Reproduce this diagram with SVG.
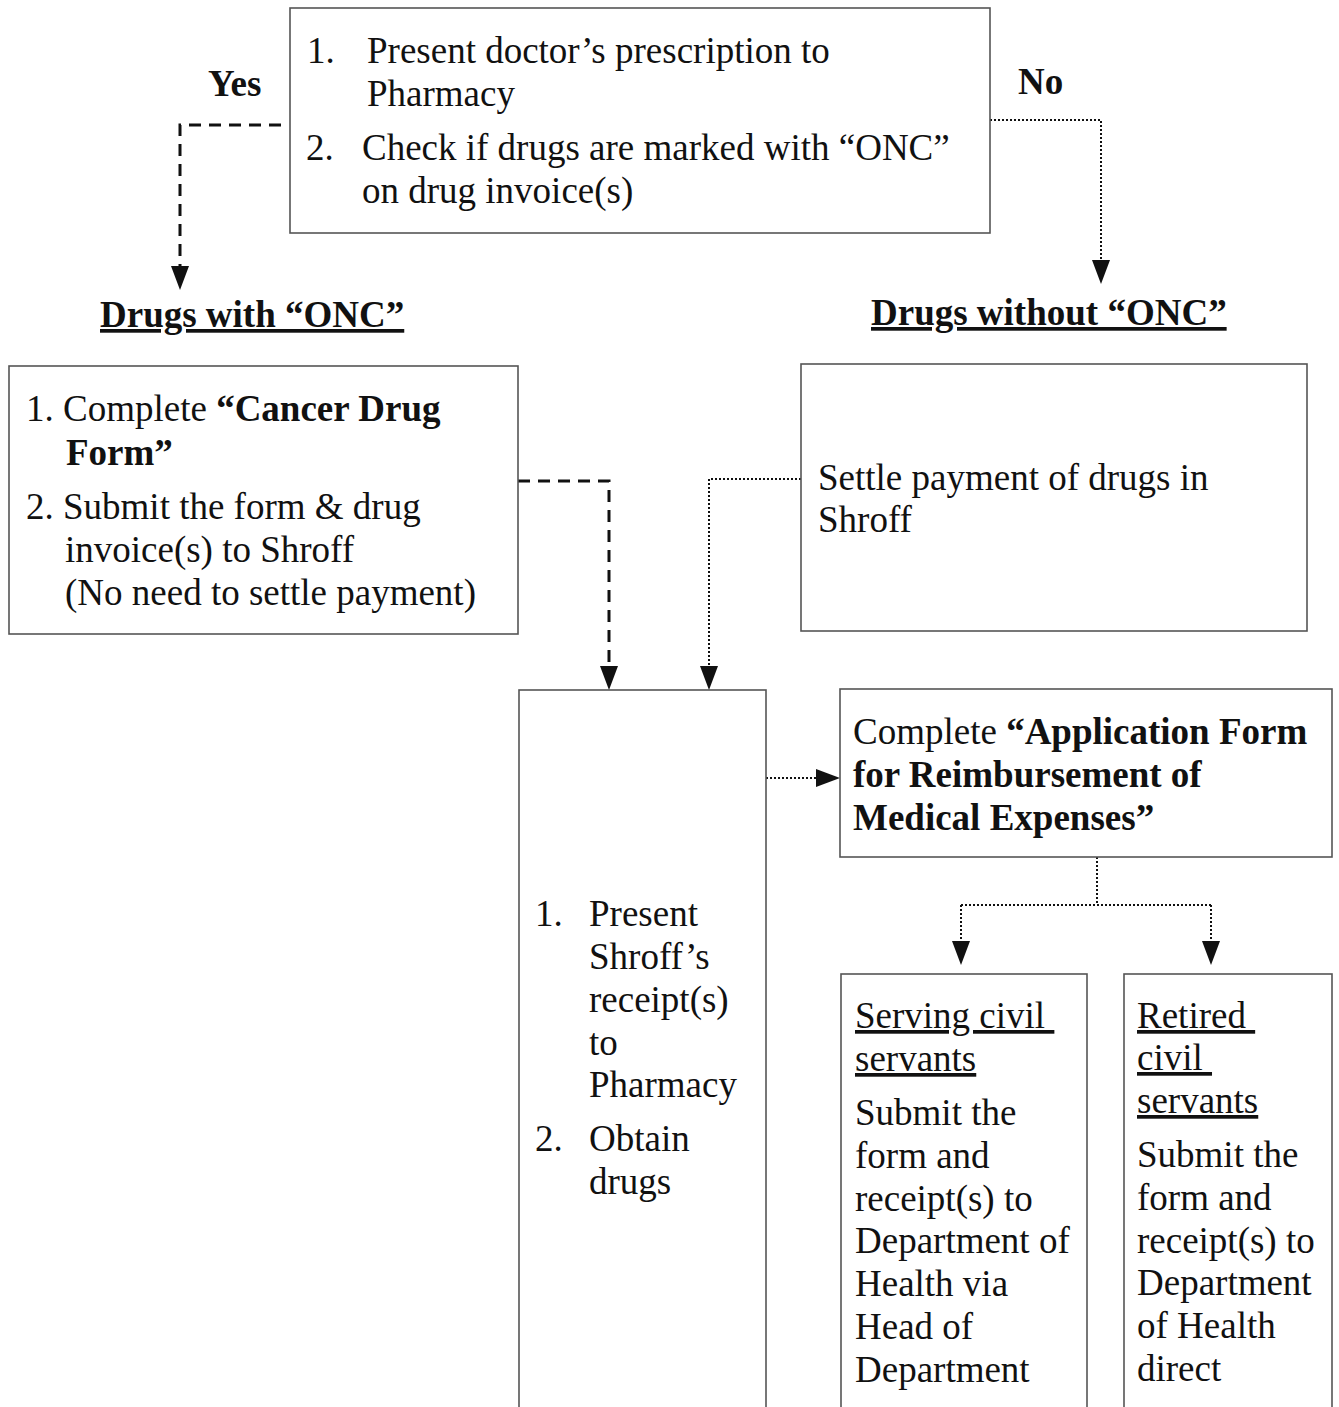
<svg xmlns="http://www.w3.org/2000/svg" width="1339" height="1407" viewBox="0 0 1339 1407">
<style>
text{font-family:"Liberation Serif","Times New Roman",serif;font-size:37px;fill:#111;white-space:pre}
.b{font-weight:bold}
.u{text-decoration:underline}
.box{fill:#fff;stroke:#555;stroke-width:1.6}
.dash{fill:none;stroke:#111;stroke-width:3;stroke-dasharray:12 8}
.dot{fill:none;stroke:#111;stroke-width:2;stroke-dasharray:2 2}
</style>
<defs>
<marker id="ah" viewBox="0 0 24 18" refX="24" refY="9" markerWidth="24" markerHeight="18" markerUnits="userSpaceOnUse" orient="auto">
<path d="M0,0 L24,9 L0,18 Z" fill="#111"/>
</marker>
</defs>
<rect width="1339" height="1407" fill="#fff"/>

<g id="connectors">
<path class="dash" d="M281,125 H180 V268"/>
<path d="M171,266 L189,266 L180,290 Z" fill="#111"/>
<path class="dot" d="M990,120 H1101 V262"/>
<path d="M1092,260 L1110,260 L1101,284 Z" fill="#111"/>
<path class="dash" d="M518,481 H609 V668"/>
<path d="M600,666 L618,666 L609,690 Z" fill="#111"/>
<path class="dot" d="M801,479 H709 V668"/>
<path d="M700,666 L718,666 L709,690 Z" fill="#111"/>
<path class="dot" d="M766,778 H818"/>
<path d="M816,769 L840,778 L816,787 Z" fill="#111"/>
<path class="dot" d="M1097,857 V905 M961,905 H1211 M961,905 V943 M1211,905 V943"/>
<path d="M952,941 L970,941 L961,965 Z" fill="#111"/>
<path d="M1202,941 L1220,941 L1211,965 Z" fill="#111"/>
</g>

<g id="label-yes"><text class="b" x="208" y="96">Yes</text></g>
<g id="label-no"><text class="b" x="1018" y="94">No</text></g>

<g id="start">
<rect class="box" x="290" y="8" width="700" height="225"/>
<text x="307" y="63">1.</text><text x="367" y="63">Present doctor’s prescription to</text>
<text x="367" y="106">Pharmacy</text>
<text x="306" y="160">2.</text><text x="362" y="160">Check if drugs are marked with “ONC”</text>
<text x="362" y="203">on drug invoice(s)</text>
</g>

<g id="heading-with"><text class="b u" x="100" y="327">Drugs with “ONC”</text></g>
<g id="heading-without"><text class="b u" x="871" y="325">Drugs without “ONC”</text></g>

<g id="cancer-form">
<rect class="box" x="9" y="366" width="509" height="268"/>
<text x="26" y="421">1. Complete <tspan class="b">“Cancer Drug</tspan></text>
<text class="b" x="66" y="465">Form”</text>
<text x="26" y="519">2. Submit the form &amp; drug</text>
<text x="65" y="562">invoice(s) to Shroff</text>
<text x="65" y="605">(No need to settle payment)</text>
</g>

<g id="settle">
<rect class="box" x="801" y="364" width="506" height="267"/>
<text x="818" y="490">Settle payment of drugs in</text>
<text x="818" y="532">Shroff</text>
</g>

<g id="obtain">
<rect class="box" x="519" y="690" width="247" height="740"/>
<text x="535" y="926">1.</text><text x="589" y="926">Present</text>
<text x="589" y="969">Shroff’s</text>
<text x="589" y="1012">receipt(s)</text>
<text x="589" y="1055">to</text>
<text x="589" y="1097">Pharmacy</text>
<text x="535" y="1151">2.</text><text x="589" y="1151">Obtain</text>
<text x="589" y="1194">drugs</text>
</g>

<g id="application">
<rect class="box" x="840" y="689" width="492" height="168"/>
<text x="853" y="744">Complete <tspan class="b">“Application Form</tspan></text>
<text class="b" x="853" y="787">for Reimbursement of</text>
<text class="b" x="853" y="830">Medical Expenses”</text>
</g>

<g id="serving">
<rect class="box" x="841" y="974" width="246" height="460"/>
<text class="u" x="855" y="1028">Serving civil </text>
<text class="u" x="855" y="1071">servants</text>
<text x="855" y="1125">Submit the</text>
<text x="855" y="1168">form and</text>
<text x="855" y="1211">receipt(s) to</text>
<text x="855" y="1253">Department of</text>
<text x="855" y="1296">Health via</text>
<text x="855" y="1339">Head of</text>
<text x="855" y="1382">Department</text>
</g>

<g id="retired">
<rect class="box" x="1124" y="974" width="208" height="460"/>
<text class="u" x="1137" y="1028">Retired </text>
<text class="u" x="1137" y="1070">civil </text>
<text class="u" x="1137" y="1113">servants</text>
<text x="1137" y="1167">Submit the</text>
<text x="1137" y="1210">form and</text>
<text x="1137" y="1253">receipt(s) to</text>
<text x="1137" y="1295">Department</text>
<text x="1137" y="1338">of Health</text>
<text x="1137" y="1381">direct</text>
</g>
</svg>
